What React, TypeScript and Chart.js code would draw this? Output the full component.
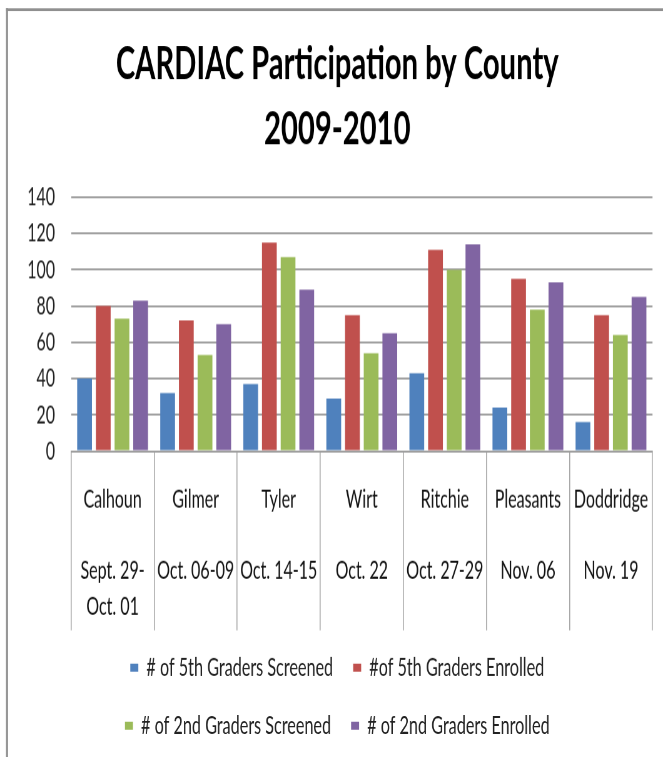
import React, { useEffect, useRef } from "react";
import { Chart, registerables } from "chart.js";

Chart.register(...registerables);

// ---- data ----
const counties = ["Calhoun", "Gilmer", "Tyler", "Wirt", "Ritchie", "Pleasants", "Doddridge"];
const dates = [
  ["Sept. 29-", "Oct. 01"],
  ["Oct. 06-09"],
  ["Oct. 14-15"],
  ["Oct. 22"],
  ["Oct. 27-29"],
  ["Nov. 06"],
  ["Nov. 19"],
];
const fifthScreened = [40, 32, 37, 29, 43, 24, 16];
const fifthEnrolled = [80, 72, 115, 75, 111, 95, 75];
const secondScreened = [73, 53, 107, 54, 100, 78, 64];
const secondEnrolled = [83, 70, 89, 65, 114, 93, 85];
const seriesNames = [
  "# of 5th Graders Screened",
  "#of 5th Graders Enrolled",
  "# of 2nd Graders Screened",
  "# of 2nd Graders Enrolled",
];
const titleLines = ["CARDIAC Participation by County", "2009-2010"];
const yMin = 0;
const yMax = 140;
const yStep = 20;

// ---- layout (canvas is drawn compressed, then stretched vertically) ----
const W = 663;
const H = 473;
const STRETCH = 757 / H;
const FONT = "Lato, 'Open Sans', 'DejaVu Sans', sans-serif";
const colors = ["#4F81BD", "#C0504D", "#9BBB59", "#8064A2"];
const PAD_LEFT = 22;
const PLOT_LEFT = 71;

export default function App() {
  const ref = useRef<HTMLCanvasElement>(null);

  useEffect(() => {
    const canvas = ref.current!;
    const framePlugin = {
      id: "frame",
      beforeDraw(chart: any) {
        const ctx = chart.ctx;
        ctx.save();
        ctx.fillStyle = "#ffffff";
        ctx.fillRect(0, 0, chart.width, chart.height);
        ctx.strokeStyle = "#8f8f8f";
        ctx.lineWidth = 1.8;
        ctx.beginPath();
        ctx.moveTo(6, 6);
        ctx.lineTo(chart.width, 6);
        ctx.stroke();
        ctx.lineWidth = 2;
        ctx.beginPath();
        ctx.moveTo(7, 5);
        ctx.lineTo(7, chart.height);
        ctx.stroke();
        ctx.restore();
      },
    };

    const labels = counties.map((c, i) => [c, "", ...dates[i]]);
    const values = [fifthScreened, fifthEnrolled, secondScreened, secondEnrolled];

    const chart = new Chart(canvas, {
      type: "bar",
      data: {
        labels,
        datasets: values.map((v, i) => ({
          label: seriesNames[i],
          data: v,
          backgroundColor: colors[i],
          borderWidth: 0,
          categoryPercentage: 0.9,
          barPercentage: 0.79,
        })),
      },
      options: {
        responsive: false,
        animation: false,
        devicePixelRatio: 1.6,
        layout: { padding: { left: PAD_LEFT, right: 11, top: 0, bottom: 2 } },
        plugins: {
          tooltip: { enabled: false },
          title: {
            display: true,
            text: titleLines,
            color: "#000",
            font: { family: FONT, size: 29.2, weight: "bold", lineHeight: 1.39 },
            padding: { top: 19.7, bottom: 22.2 },
          },
          legend: {
            position: "bottom",
            labels: {
              font: { family: FONT, size: 16.2 },
              color: "#222",
              boxWidth: 8,
              boxHeight: 5,
              padding: 20,
            },
          },
        },
        scales: {
          x: {
            grid: {
              display: true,
              drawOnChartArea: false,
              drawTicks: true,
              tickLength: 111.9,
              color: "#a8a8a8",
              lineWidth: 1,
            },
            border: { display: true, color: "#9e9e9e", width: 1.2 },
            ticks: {
              autoSkip: false,
              maxRotation: 0,
              minRotation: 0,
              padding: -93.1,
              color: "#111",
              font: { family: FONT, size: 16, lineHeight: 1.4 },
            },
            afterFit: (s: any) => {
              s.height = 107;
            },
          },
          y: {
            min: yMin,
            max: yMax,
            grid: {
              drawTicks: false,
              color: "#a0a0a0",
              lineWidth: 1.2,
            },
            border: { display: false },
            ticks: {
              stepSize: yStep,
              padding: 16,
              color: "#222",
              font: { family: FONT, size: 16 },
            },
            afterFit: (s: any) => {
              s.width = PLOT_LEFT - PAD_LEFT;
            },
          },
        },
      },
      plugins: [framePlugin],
    } as any);
    return () => chart.destroy();
  }, []);

  return (
    <div
      style={{
        position: "absolute",
        left: 0,
        top: 0,
        width: W,
        height: 757,
        overflow: "hidden",
        background: "#fff",
      }}
    >
      <div style={{ width: W, height: H, transform: `scaleY(${STRETCH})`, transformOrigin: "0 0" }}>
        <canvas ref={ref} width={W} height={H} />
      </div>
    </div>
  );
}
